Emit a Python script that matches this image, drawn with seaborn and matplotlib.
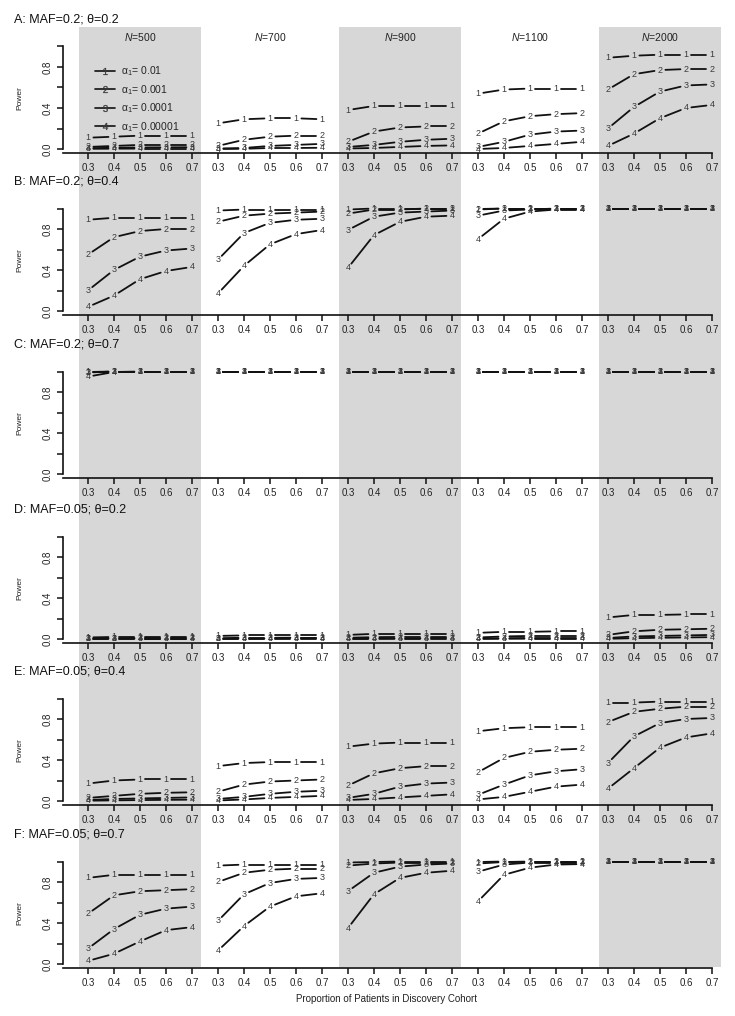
import matplotlib
matplotlib.use('Agg')
import matplotlib.pyplot as plt
import seaborn as sns
import pandas as pd
import numpy as np
from matplotlib.lines import Line2D

sample_sizes = [500, 700, 900, 1100, 2000]
proportions = ['0.3', '0.4', '0.5', '0.6', '0.7']
alphas = ['0.01', '0.001', '0.0001', '0.00001']
row_titles = ['A: MAF=0.2; \u03b8=0.2', 'B: MAF=0.2; \u03b8=0.4', 'C: MAF=0.2; \u03b8=0.7',
              'D: MAF=0.05; \u03b8=0.2', 'E: MAF=0.05; \u03b8=0.4', 'F: MAF=0.05; \u03b8=0.7']

# power for each alpha_1, panels N=500, 700, 900, 1100, 2000 back to back
power_A = [
    [0.11, 0.12, 0.13, 0.13, 0.13, 0.25, 0.29, 0.30, 0.30, 0.29, 0.38, 0.42, 0.42, 0.42, 0.42,
     0.54, 0.58, 0.59, 0.59, 0.59, 0.89, 0.91, 0.92, 0.92, 0.92],
    [0.02, 0.03, 0.04, 0.04, 0.04, 0.03, 0.09, 0.12, 0.13, 0.13, 0.07, 0.17, 0.21, 0.22, 0.22,
     0.15, 0.27, 0.32, 0.34, 0.35, 0.58, 0.73, 0.77, 0.78, 0.78],
    [0.008, 0.012, 0.015, 0.016, 0.017, 0.005, 0.01, 0.03, 0.04, 0.05, 0.02, 0.04, 0.07, 0.09, 0.10,
     0.02, 0.07, 0.14, 0.17, 0.18, 0.20, 0.41, 0.56, 0.62, 0.63],
    [0.002, 0.003, 0.004, 0.004, 0.004, 0.0, 0.002, 0.01, 0.01, 0.012, 0.005, 0.01, 0.02, 0.03, 0.035,
     0.0, 0.01, 0.03, 0.05, 0.07, 0.03, 0.15, 0.30, 0.40, 0.43],
]
power_B = [
    [0.89, 0.91, 0.91, 0.91, 0.91, 0.98, 0.99, 0.99, 0.99, 0.99, 0.99, 1.0, 1.0, 1.0, 1.0,
     0.995, 1.0, 1.0, 1.0, 1.0, 1.0, 1.0, 1.0, 1.0, 1.0],
    [0.55, 0.72, 0.78, 0.80, 0.80, 0.87, 0.93, 0.95, 0.96, 0.97, 0.95, 0.99, 0.99, 1.0, 1.0,
     0.99, 1.0, 1.0, 1.0, 1.0, 1.0, 1.0, 1.0, 1.0, 1.0],
    [0.20, 0.40, 0.53, 0.59, 0.61, 0.50, 0.76, 0.86, 0.89, 0.90, 0.79, 0.92, 0.96, 0.97, 0.98,
     0.93, 0.98, 0.99, 1.0, 1.0, 1.0, 1.0, 1.0, 1.0, 1.0],
    [0.04, 0.15, 0.31, 0.39, 0.43, 0.17, 0.44, 0.65, 0.75, 0.79, 0.42, 0.74, 0.87, 0.92, 0.93,
     0.70, 0.90, 0.97, 0.99, 0.99, 1.0, 1.0, 1.0, 1.0, 1.0],
]
power_C = [
    [1.0, 1.0, 1.0, 1.0, 1.0, 1.0, 1.0, 1.0, 1.0, 1.0, 1.0, 1.0, 1.0, 1.0, 1.0,
     1.0, 1.0, 1.0, 1.0, 1.0, 1.0, 1.0, 1.0, 1.0, 1.0],
    [0.995, 1.0, 1.0, 1.0, 1.0, 1.0, 1.0, 1.0, 1.0, 1.0, 1.0, 1.0, 1.0, 1.0, 1.0,
     1.0, 1.0, 1.0, 1.0, 1.0, 1.0, 1.0, 1.0, 1.0, 1.0],
    [0.99, 1.0, 1.0, 1.0, 1.0, 1.0, 1.0, 1.0, 1.0, 1.0, 1.0, 1.0, 1.0, 1.0, 1.0,
     1.0, 1.0, 1.0, 1.0, 1.0, 1.0, 1.0, 1.0, 1.0, 1.0],
    [0.95, 0.995, 1.0, 1.0, 1.0, 1.0, 1.0, 1.0, 1.0, 1.0, 1.0, 1.0, 1.0, 1.0, 1.0,
     1.0, 1.0, 1.0, 1.0, 1.0, 1.0, 1.0, 1.0, 1.0, 1.0],
]
power_D = [
    [0.015, 0.02, 0.02, 0.02, 0.02, 0.03, 0.035, 0.035, 0.035, 0.035, 0.04, 0.05, 0.05, 0.05, 0.05,
     0.06, 0.07, 0.07, 0.075, 0.075, 0.21, 0.235, 0.235, 0.24, 0.24],
    [0.005, 0.008, 0.01, 0.01, 0.01, 0.008, 0.012, 0.012, 0.013, 0.013, 0.012, 0.018, 0.02, 0.02, 0.02,
     0.015, 0.025, 0.03, 0.03, 0.03, 0.04, 0.075, 0.09, 0.095, 0.10],
    [0.002, 0.003, 0.004, 0.004, 0.004, 0.002, 0.004, 0.005, 0.005, 0.005, 0.003, 0.005, 0.006, 0.007, 0.007,
     0.004, 0.008, 0.01, 0.01, 0.01, 0.01, 0.025, 0.03, 0.035, 0.04],
    [0.001, 0.001, 0.001, 0.001, 0.001, 0.001, 0.001, 0.001, 0.001, 0.001, 0.001, 0.001, 0.002, 0.002, 0.002,
     0.001, 0.002, 0.003, 0.003, 0.003, 0.002, 0.008, 0.012, 0.015, 0.018],
]
power_E = [
    [0.17, 0.20, 0.21, 0.21, 0.21, 0.34, 0.37, 0.38, 0.38, 0.38, 0.53, 0.56, 0.57, 0.57, 0.57,
     0.68, 0.71, 0.72, 0.72, 0.72, 0.96, 0.96, 0.97, 0.97, 0.97],
    [0.03, 0.05, 0.07, 0.08, 0.085, 0.09, 0.16, 0.19, 0.20, 0.21, 0.15, 0.27, 0.32, 0.34, 0.34,
     0.28, 0.42, 0.48, 0.50, 0.51, 0.77, 0.87, 0.90, 0.92, 0.92],
    [0.01, 0.02, 0.025, 0.03, 0.035, 0.02, 0.04, 0.07, 0.09, 0.10, 0.03, 0.07, 0.14, 0.17, 0.18,
     0.06, 0.16, 0.25, 0.29, 0.31, 0.37, 0.63, 0.76, 0.80, 0.81],
    [0.003, 0.006, 0.009, 0.011, 0.013, 0.005, 0.015, 0.03, 0.04, 0.05, 0.01, 0.02, 0.035, 0.05, 0.065,
     0.015, 0.04, 0.09, 0.14, 0.16, 0.12, 0.32, 0.52, 0.62, 0.66],
]
power_F = [
    [0.84, 0.87, 0.87, 0.87, 0.87, 0.96, 0.97, 0.97, 0.97, 0.97, 0.99, 0.995, 1.0, 1.0, 1.0,
     0.995, 1.0, 1.0, 1.0, 1.0, 1.0, 1.0, 1.0, 1.0, 1.0],
    [0.49, 0.67, 0.71, 0.72, 0.73, 0.80, 0.89, 0.92, 0.93, 0.93, 0.96, 0.98, 0.99, 0.99, 0.99,
     0.98, 0.995, 1.0, 1.0, 1.0, 1.0, 1.0, 1.0, 1.0, 1.0],
    [0.15, 0.34, 0.48, 0.54, 0.56, 0.42, 0.68, 0.79, 0.83, 0.84, 0.71, 0.89, 0.95, 0.97, 0.98,
     0.90, 0.97, 0.99, 0.99, 0.99, 1.0, 1.0, 1.0, 1.0, 1.0],
    [0.03, 0.10, 0.22, 0.33, 0.36, 0.13, 0.37, 0.56, 0.66, 0.69, 0.35, 0.68, 0.84, 0.89, 0.91,
     0.61, 0.87, 0.94, 0.97, 0.975, 1.0, 1.0, 1.0, 1.0, 1.0],
]
rows = [power_A, power_B, power_C, power_D, power_E, power_F]

sns.set_theme(style='white')
plt.rcParams['font.family'] = ['Liberation Sans', 'DejaVu Sans']
plt.rcParams['mathtext.fontset'] = 'custom'
plt.rcParams['mathtext.rm'] = 'Liberation Sans'
plt.rcParams['mathtext.it'] = 'Liberation Sans:italic'
plt.rcParams['mathtext.bf'] = 'Liberation Sans:bold'

W, H = 735, 1016
fig = plt.figure(figsize=(W / 100, H / 100), dpi=100)

gray = '#d7d7d7'
ink = '#111111'
digit_col = '#3a3a3a'
xlim = (0.04, 25.96)
ylim = (-0.04, 1.04)
left_px, width_px = 62.96, 25.92 * 26
zero_px = [149, 311, 474, 639, 801, 964]
unit_px = 102.5
gap_px = 5.5

# background stripes behind N=500, 900, 2000
bg = fig.add_axes([left_px / W, 1 - 967 / H, width_px / W, (967 - 27) / H])
bg.set_xlim(xlim)
bg.set_ylim(0, 1)
bg.axis('off')
for p in (0, 2, 4):
    bg.axvspan(5 * p + 1 - 0.35, 5 * p + 5 + 0.35, color=gray, lw=0)

positions = np.arange(1, 26)


def gapped(ax, xs, ys, tag):
    trans = ax.transData
    pts = trans.transform(np.column_stack([xs, ys]))
    out = []
    for i in range(len(pts) - 1):
        d = pts[i + 1] - pts[i]
        L = np.hypot(d[0], d[1])
        if L <= 2 * gap_px:
            continue
        u = d / L
        a, b = trans.inverted().transform([pts[i] + u * gap_px, pts[i + 1] - u * gap_px])
        out.append((f'{tag}-{i}', a[0], a[1]))
        out.append((f'{tag}-{i}', b[0], b[1]))
    return out


for r, (title, series) in enumerate(zip(row_titles, rows)):
    z = zero_px[r]
    ax = fig.add_axes([left_px / W, 1 - (z + 0.04 * unit_px) / H, width_px / W, 1.08 * unit_px / H])
    ax.patch.set_alpha(0)
    ax.set_xlim(xlim)
    ax.set_ylim(ylim)

    for k, vals in enumerate(series):
        segs = []
        for p in range(5):
            sl = slice(5 * p, 5 * p + 5)
            segs += gapped(ax, positions[sl], vals[sl], f'{k}-{p}')
        df = pd.DataFrame(segs, columns=['seg', 'x', 'y'])
        sns.lineplot(data=df, x='x', y='y', units='seg', estimator=None, sort=False,
                     color=ink, lw=1.3, ax=ax, zorder=3 + 2 * k)
        for x, y in zip(positions, vals):
            ax.text(x, y, str(k + 1), ha='center', va='center', fontsize=6.5,
                    color=digit_col, zorder=4 + 2 * k)

    ax.set_xlim(xlim)
    ax.set_ylim(ylim)
    ax.set_xlabel('')
    ax.set_ylabel('Power', fontsize=6, color='#222222')
    ax.yaxis.set_label_coords(-0.058, 0.5)
    ax.set_xticks(positions)
    ax.set_xticklabels(proportions * 5)
    ax.set_yticks([0, 0.2, 0.4, 0.6, 0.8, 1.0])
    ax.set_yticklabels(['0.0', '', '0.4', '', '0.8', ''])
    for lbl in ax.get_yticklabels():
        lbl.set_rotation(90)
        lbl.set_va('center')
    ax.tick_params(direction='out', length=4.3, width=1.1, labelsize=7, pad=2.5,
                   colors=ink, labelcolor='#222222', bottom=True, left=True)
    ax.tick_params(axis='y', pad=3.5)
    sns.despine(ax=ax)
    ax.spines['left'].set_bounds(0, 1)
    ax.spines['bottom'].set_bounds(xlim[0], 25)
    for s in ('left', 'bottom'):
        ax.spines[s].set_linewidth(1.2)
        ax.spines[s].set_color(ink)

    fig.text(14 / W, 1 - (z - unit_px - 27) / H, title, fontsize=9, ha='left', va='center',
             color=ink)

    if r == 0:
        for p, n in enumerate(sample_sizes):
            ax.text(5 * p + 3, 1.045, f'$N$={n}', transform=ax.get_xaxis_transform(),
                    ha='center', va='center', fontsize=7.5, color='#222222')
        handles = [Line2D([], [], color=ink, lw=1.2, marker=f'${k + 1}$', markersize=5,
                          markerfacecolor=digit_col, markeredgecolor=digit_col,
                          markeredgewidth=0.2) for k in range(4)]
        labels = [r'$\mathregular{\alpha_1}$= ' + a for a in alphas]
        ax.legend(handles, labels, loc='upper left', bbox_to_anchor=(0.047, 0.80),
                  frameon=False, fontsize=7.5, handlelength=2.0, handletextpad=0.5,
                  labelspacing=0.45, borderpad=0, borderaxespad=0)

fig.text(386 / W, 1 - 999 / H, 'Proportion of Patients in Discovery Cohort', fontsize=7,
         ha='center', va='center', color='#222222')

fig.savefig('out.png', dpi=100)
